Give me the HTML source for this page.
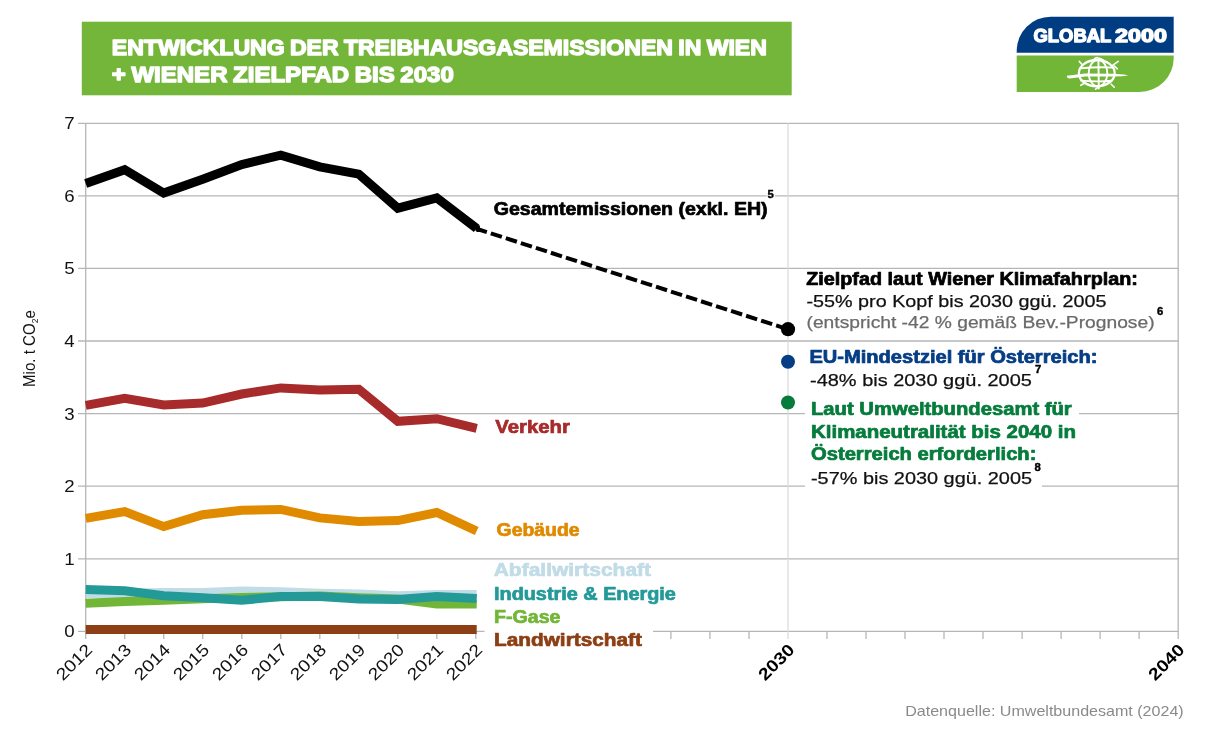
<!DOCTYPE html>
<html lang="de"><head><meta charset="utf-8"><title>Treibhausgasemissionen Wien</title>
<style>
html,body{margin:0;padding:0;background:#fff;}
body{width:1215px;height:751px;overflow:hidden;font-family:"Liberation Sans",sans-serif;}
svg{display:block;}
text{font-family:"Liberation Sans",sans-serif;}
.b{font-weight:bold;}
.lbl{font-size:17.6px;font-weight:bold;}
.reg{font-size:17.4px;stroke-width:0.25px;}
.tick{font-size:17px;fill:#111;}
.sup{font-size:11.3px;font-weight:bold;fill:#000;stroke:#000;stroke-width:0.4px;}
</style></head><body>
<svg width="1215" height="751" viewBox="0 0 1215 751">
<rect width="1215" height="751" fill="#fff"/>

<rect x="81.8" y="21.7" width="709.9" height="73.6" fill="#74b63a"/>
<g fill="#fff" stroke="#fff" stroke-width="1.4" stroke-linejoin="round" font-size="21.6" font-weight="bold" word-spacing="-1">
<text x="111.8" y="55.1" textLength="655" lengthAdjust="spacingAndGlyphs">ENTWICKLUNG DER TREIBHAUSGASEMISSIONEN IN WIEN</text>
<text x="111.8" y="82.4" textLength="342" lengthAdjust="spacingAndGlyphs">+ WIENER ZIELPFAD BIS 2030</text>
</g>
<g id="logo">
<path d="M1016.7 52.7 V50.7 A34 34 0 0 1 1050.7 16.7 H1173.7 V52.7 Z" fill="#003c82"/>
<path d="M1016.7 55.5 H1173.7 V57.9 A34 34 0 0 1 1139.7 91.9 H1016.7 Z" fill="#72b638"/>
<text y="41.5" font-size="17.6" font-weight="bold" fill="#fff" stroke="#fff" stroke-width="1.3" stroke-linejoin="round"><tspan x="1033.5" textLength="77.4" lengthAdjust="spacingAndGlyphs">GLOBAL</tspan> <tspan x="1114.9" textLength="52" lengthAdjust="spacingAndGlyphs">2000</tspan></text>
<g fill="none" stroke="#fff" stroke-width="1.9" stroke-linecap="round">
<ellipse cx="1096.8" cy="73.2" rx="17.9" ry="13.2" stroke-width="2.3"/>
<ellipse cx="1098" cy="73.2" rx="9.3" ry="13.2"/>
<path d="M1098.4 58.4 L1098.8 88.6"/>
<path d="M1081.5 68.3 Q1097 66.6 1113.5 67.6"/>
<path d="M1081 80.6 Q1097 82 1111.5 80.8"/>
<path d="M1079.2 61.4 L1082.8 65.2 M1118.2 61.4 L1112.2 65.6 M1114.4 66 L1117.3 68.8 M1080.8 85.3 L1084.8 83 M1111.2 84.2 L1114.3 87.2 M1095.6 89.2 L1099.6 86.4 M1094.5 58.6 L1097.5 57.6 M1099.5 58.3 L1103 60" stroke-width="1.6"/>
</g>
<path d="M1066.8 76.8 Q1066.5 75.2 1069 75.4 L1085 73.5 L1112 73.7 L1124 74.6 L1128.2 75.4 L1122 76.2 L1112 76.4 L1085 76.5 L1070 78.4 Q1067.5 78.6 1066.8 76.8 Z" fill="#fff"/>
</g>
<g stroke="#b6b6b6" stroke-width="1.3" fill="none">
<line x1="78" y1="558.8" x2="1178.8" y2="558.8"/>
<line x1="78" y1="486.2" x2="1178.8" y2="486.2"/>
<line x1="78" y1="413.6" x2="1178.8" y2="413.6"/>
<line x1="78" y1="341.0" x2="1178.8" y2="341.0"/>
<line x1="78" y1="268.4" x2="1178.8" y2="268.4"/>
<line x1="78" y1="195.9" x2="1178.8" y2="195.9"/>
<line x1="78" y1="123.3" x2="1178.8" y2="123.3"/>
<line x1="78" y1="631.4" x2="1178.8" y2="631.4"/>
<line x1="85.7" y1="123.3" x2="85.7" y2="638.9"/>
<line x1="1178.2" y1="123.3" x2="1178.2" y2="638.9"/>
<line x1="124.7" y1="631.4" x2="124.7" y2="638.9"/>
<line x1="163.7" y1="631.4" x2="163.7" y2="638.9"/>
<line x1="202.7" y1="631.4" x2="202.7" y2="638.9"/>
<line x1="241.8" y1="631.4" x2="241.8" y2="638.9"/>
<line x1="280.8" y1="631.4" x2="280.8" y2="638.9"/>
<line x1="319.8" y1="631.4" x2="319.8" y2="638.9"/>
<line x1="358.8" y1="631.4" x2="358.8" y2="638.9"/>
<line x1="397.8" y1="631.4" x2="397.8" y2="638.9"/>
<line x1="436.8" y1="631.4" x2="436.8" y2="638.9"/>
<line x1="475.8" y1="631.4" x2="475.8" y2="638.9"/>
<line x1="514.9" y1="631.4" x2="514.9" y2="638.9"/>
<line x1="553.9" y1="631.4" x2="553.9" y2="638.9"/>
<line x1="592.9" y1="631.4" x2="592.9" y2="638.9"/>
<line x1="631.9" y1="631.4" x2="631.9" y2="638.9"/>
<line x1="670.9" y1="631.4" x2="670.9" y2="638.9"/>
<line x1="709.9" y1="631.4" x2="709.9" y2="638.9"/>
<line x1="749.0" y1="631.4" x2="749.0" y2="638.9"/>
<line x1="827.0" y1="631.4" x2="827.0" y2="638.9"/>
<line x1="866.0" y1="631.4" x2="866.0" y2="638.9"/>
<line x1="905.0" y1="631.4" x2="905.0" y2="638.9"/>
<line x1="944.0" y1="631.4" x2="944.0" y2="638.9"/>
<line x1="983.0" y1="631.4" x2="983.0" y2="638.9"/>
<line x1="1022.1" y1="631.4" x2="1022.1" y2="638.9"/>
<line x1="1061.1" y1="631.4" x2="1061.1" y2="638.9"/>
<line x1="1100.1" y1="631.4" x2="1100.1" y2="638.9"/>
<line x1="1139.1" y1="631.4" x2="1139.1" y2="638.9"/>
</g>
<line x1="788.0" y1="123.3" x2="788.0" y2="638.9" stroke="#d9d9d9" stroke-width="1.2"/>
<g class="tick" text-anchor="end">
<text x="74.7" y="637.3" textLength="10.4" lengthAdjust="spacingAndGlyphs">0</text>
<text x="74.7" y="564.7" textLength="10.4" lengthAdjust="spacingAndGlyphs">1</text>
<text x="74.7" y="492.1" textLength="10.4" lengthAdjust="spacingAndGlyphs">2</text>
<text x="74.7" y="419.5" textLength="10.4" lengthAdjust="spacingAndGlyphs">3</text>
<text x="74.7" y="346.9" textLength="10.4" lengthAdjust="spacingAndGlyphs">4</text>
<text x="74.7" y="274.3" textLength="10.4" lengthAdjust="spacingAndGlyphs">5</text>
<text x="74.7" y="201.8" textLength="10.4" lengthAdjust="spacingAndGlyphs">6</text>
<text x="74.7" y="129.2" textLength="10.4" lengthAdjust="spacingAndGlyphs">7</text>
</g>
<text transform="translate(34.7,387) rotate(-90)" font-size="15.8" fill="#111" textLength="77" lengthAdjust="spacingAndGlyphs">Mio. t CO<tspan font-size="9" dy="3">2</tspan><tspan dy="-3">e</tspan></text>
<g class="tick" text-anchor="end">
<text transform="translate(93.3,651.0) rotate(-45)" textLength="43" lengthAdjust="spacingAndGlyphs">2012</text>
<text transform="translate(132.3,651.0) rotate(-45)" textLength="43" lengthAdjust="spacingAndGlyphs">2013</text>
<text transform="translate(171.3,651.0) rotate(-45)" textLength="43" lengthAdjust="spacingAndGlyphs">2014</text>
<text transform="translate(210.3,651.0) rotate(-45)" textLength="43" lengthAdjust="spacingAndGlyphs">2015</text>
<text transform="translate(249.4,651.0) rotate(-45)" textLength="43" lengthAdjust="spacingAndGlyphs">2016</text>
<text transform="translate(288.4,651.0) rotate(-45)" textLength="43" lengthAdjust="spacingAndGlyphs">2017</text>
<text transform="translate(327.4,651.0) rotate(-45)" textLength="43" lengthAdjust="spacingAndGlyphs">2018</text>
<text transform="translate(366.4,651.0) rotate(-45)" textLength="43" lengthAdjust="spacingAndGlyphs">2019</text>
<text transform="translate(405.4,651.0) rotate(-45)" textLength="43" lengthAdjust="spacingAndGlyphs">2020</text>
<text transform="translate(444.4,651.0) rotate(-45)" textLength="43" lengthAdjust="spacingAndGlyphs">2021</text>
<text transform="translate(483.4,651.0) rotate(-45)" textLength="43" lengthAdjust="spacingAndGlyphs">2022</text>
</g>
<g class="tick b" text-anchor="end" fill="#000">
<text transform="translate(795.6,651.0) rotate(-45)" style="fill:#000" textLength="43" lengthAdjust="spacingAndGlyphs">2030</text>
<text transform="translate(1185.7,651.0) rotate(-45)" style="fill:#000" textLength="43" lengthAdjust="spacingAndGlyphs">2040</text>
</g>
<polyline points="85.7,593.4 124.7,593.2 163.7,592.6 202.7,592.6 241.8,591.0 280.8,591.8 319.8,593.2 358.8,593.9 397.8,595.7 436.8,594.5 476.7,594.5" fill="none" stroke="#c0dce6" stroke-width="9" stroke-linejoin="miter"/>
<polyline points="85.7,603.3 124.7,601.6 163.7,600.3 202.7,598.7 241.8,597.4 280.8,596.8 319.8,596.0 358.8,597.7 397.8,599.1 436.8,604.0 476.7,604.0" fill="none" stroke="#72b638" stroke-width="9" stroke-linejoin="miter"/>
<polyline points="85.7,589.4 124.7,590.8 163.7,595.7 202.7,597.7 241.8,600.3 280.8,596.4 319.8,596.6 358.8,599.0 397.8,599.5 436.8,596.6 476.7,598.6" fill="none" stroke="#249a98" stroke-width="9" stroke-linejoin="miter"/>
<polyline points="85.7,629.6 124.7,629.6 163.7,629.6 202.7,629.5 241.8,629.4 280.8,629.4 319.8,629.4 358.8,629.4 397.8,629.4 436.8,629.4 476.7,629.4" fill="none" stroke="#8c3f14" stroke-width="9" stroke-linejoin="miter"/>
<polyline points="85.7,518.4 124.7,511.6 163.7,526.6 202.7,514.7 241.8,510.2 280.8,509.4 319.8,517.9 358.8,521.6 397.8,520.6 436.8,512.5 476.7,531.0" fill="none" stroke="#e08a00" stroke-width="9" stroke-linejoin="miter"/>
<polyline points="85.7,405.4 124.7,398.4 163.7,404.9 202.7,403.1 241.8,394.0 280.8,387.9 319.8,389.9 358.8,389.3 397.8,421.3 436.8,418.7 476.7,428.4" fill="none" stroke="#a82b2b" stroke-width="9" stroke-linejoin="miter"/>
<polyline points="85.7,183.5 124.7,169.7 163.7,193.0 202.7,179.2 241.8,164.6 280.8,155.2 319.8,166.8 358.8,174.1 397.8,208.2 436.8,198.0 476.6,228.3" fill="none" stroke="#000" stroke-width="9" stroke-linejoin="miter"/>
<line x1="475.8" y1="228.5" x2="788.0" y2="329.3" stroke="#000" stroke-width="4" stroke-dasharray="11.6 4.18"/>
<rect x="476.4" y="225.4" width="3.5" height="6.6" fill="#000"/>
<circle cx="788" cy="329.2" r="7.1" fill="#000"/>
<circle cx="788" cy="361.8" r="7" fill="#063e85"/>
<circle cx="788" cy="402.5" r="7" fill="#067c3c"/>
<g fill="#fff">
<rect x="484.5" y="622" width="168.5" height="28"/>
<rect x="805" y="398" width="274" height="22"/>
<rect x="805" y="466" width="237" height="24"/>
<rect x="766.5" y="190" width="8.5" height="9"/>
</g>
<text x="493.7" y="214.8" class="lbl" fill="#000" textLength="273.9" lengthAdjust="spacingAndGlyphs" stroke="#000" stroke-width="0.7" stroke-linejoin="round">Gesamtemissionen (exkl. EH)</text>
<text x="767.6" y="198.4" class="sup">5</text>
<text x="495.3" y="433.4" class="lbl" fill="#a82b2b" textLength="74.6" lengthAdjust="spacingAndGlyphs" stroke="#a82b2b" stroke-width="0.7" stroke-linejoin="round">Verkehr</text>
<text x="496.6" y="535.9" class="lbl" fill="#e08a00" textLength="82.9" lengthAdjust="spacingAndGlyphs" stroke="#e08a00" stroke-width="0.7" stroke-linejoin="round">Gebäude</text>
<text x="493.7" y="575.7" class="lbl" fill="#c0dce6" textLength="157.4" lengthAdjust="spacingAndGlyphs" stroke="#c0dce6" stroke-width="0.7" stroke-linejoin="round">Abfallwirtschaft</text>
<text x="494.0" y="599.5" class="lbl" fill="#249a98" textLength="181.9" lengthAdjust="spacingAndGlyphs" stroke="#249a98" stroke-width="0.7" stroke-linejoin="round">Industrie &amp; Energie</text>
<text x="494.0" y="623.2" class="lbl" fill="#72b638" textLength="66.5" lengthAdjust="spacingAndGlyphs" stroke="#72b638" stroke-width="0.7" stroke-linejoin="round">F-Gase</text>
<text x="494.0" y="645.9" class="lbl" fill="#8c3f14" textLength="147.9" lengthAdjust="spacingAndGlyphs" stroke="#8c3f14" stroke-width="0.7" stroke-linejoin="round">Landwirtschaft</text>
<text x="806.2" y="284.9" class="lbl" fill="#000" textLength="331.7" lengthAdjust="spacingAndGlyphs" stroke="#000" stroke-width="0.7" stroke-linejoin="round">Zielpfad laut Wiener Klimafahrplan:</text>
<text x="806.5" y="307.3" class="reg" fill="#111" textLength="299.9" lengthAdjust="spacingAndGlyphs" stroke="#111">-55% pro Kopf bis 2030 ggü. 2005</text>
<text x="806.5" y="328.2" class="reg" fill="#6a6a6a" textLength="348.1" lengthAdjust="spacingAndGlyphs" stroke="#6a6a6a">(entspricht -42 % gemäß Bev.-Prognose)</text>
<text x="1157" y="315.4" class="sup">6</text>
<text x="809.4" y="363.1" class="lbl" fill="#063e85" textLength="288.0" lengthAdjust="spacingAndGlyphs" stroke="#063e85" stroke-width="0.7" stroke-linejoin="round">EU-Mindestziel für Österreich:</text>
<text x="810.0" y="385.9" class="reg" fill="#111" textLength="221.9" lengthAdjust="spacingAndGlyphs" stroke="#111">-48% bis 2030 ggü. 2005</text>
<text x="1035" y="372.7" class="sup">7</text>
<text x="811.0" y="414.5" class="lbl" fill="#067c3c" textLength="260.7" lengthAdjust="spacingAndGlyphs" stroke="#067c3c" stroke-width="0.7" stroke-linejoin="round">Laut Umweltbundesamt für</text>
<text x="811.0" y="437.9" class="lbl" fill="#067c3c" textLength="264.9" lengthAdjust="spacingAndGlyphs" stroke="#067c3c" stroke-width="0.7" stroke-linejoin="round">Klimaneutralität bis 2040 in</text>
<text x="811.0" y="460.4" class="lbl" fill="#067c3c" textLength="225.4" lengthAdjust="spacingAndGlyphs" stroke="#067c3c" stroke-width="0.7" stroke-linejoin="round">Österreich erforderlich:</text>
<text x="811.0" y="483.5" class="reg" fill="#111" textLength="221.0" lengthAdjust="spacingAndGlyphs" stroke="#111">-57% bis 2030 ggü. 2005</text>
<text x="1034.5" y="471" class="sup">8</text>
<text x="905.2" y="716.3" font-size="14.5" fill="#8a8a8a" textLength="278.5" lengthAdjust="spacingAndGlyphs">Datenquelle: Umweltbundesamt (2024)</text>
</svg></body></html>
